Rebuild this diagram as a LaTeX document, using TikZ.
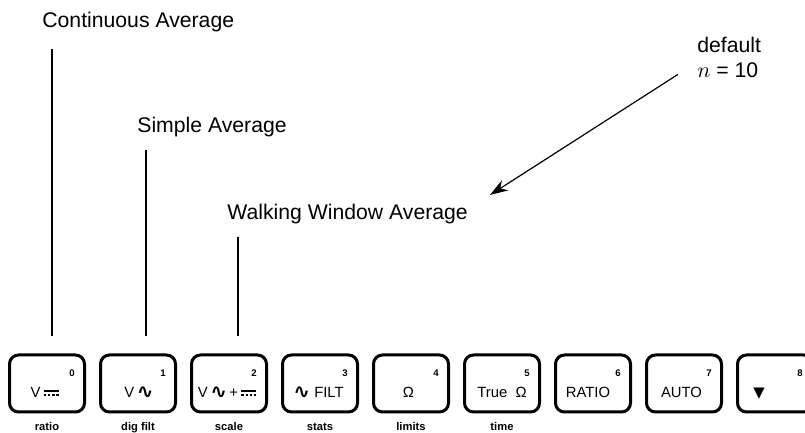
\documentclass[tikz,border=0pt]{standalone}
\usepackage{fontspec}
\setmainfont{Liberation Sans}
\newfontfamily\symfont{DejaVu Sans}
\usetikzlibrary{arrows.meta}

% small key symbols
\newcommand{\dcsym}{\tikz[baseline=0pt]{\draw[line width=0.75pt] (0pt,3.4pt) -- (7.5pt,3.4pt); \draw[line width=0.75pt,dash pattern=on 1.3pt off 0.8pt] (0pt,1.5pt) -- (7.5pt,1.5pt);}}
\newcommand{\acsym}{\raisebox{-0.2pt}{\scalebox{1.35}{\symfont\bfseries ∿}}}

\begin{document}
\begin{tikzpicture}[x=0.5pt,y=-0.5pt]
   \useasboundingbox (0,0) rectangle (805,433);
   \tikzstyle{title}=[anchor=base west, inner sep=0pt, font=\fontsize{10.6}{12.5}\selectfont]
   \tikzstyle{key}=[draw, line width=1.5pt, rounded corners=4.5pt, minimum width=37.5pt, minimum height=28.5pt, inner sep=0pt]
   \tikzstyle{keytext}=[anchor=base, inner sep=0pt, font=\fontsize{7.4}{8}\selectfont]
   \tikzstyle{num}=[inner sep=0pt, font=\fontsize{4.8}{5}\selectfont\bfseries]
   \tikzstyle{fn}=[anchor=base, inner sep=0pt, font=\fontsize{5.6}{6}\selectfont\bfseries]
   \tikzstyle{bar}=[line width=0.8pt, shorten >=8.5pt]
   \tikzstyle{pointer}=[line width=0.6pt, -{Stealth[length=9pt,width=6pt]}]
   \node[title] (cont) at (42,28) {Continuous Average};
   \node[title] (simple) at (137,133) {Simple Average};
   \node[title] (walk) at (227,220) {Walking Window Average};
   \node[title, anchor=north west, align=left] (dflt) at (697,37) {default\\$n$ = 10};
   \foreach \i/\off/\word/\fn in {0/-2/{V\,\dcsym}/ratio, 1/1/{V\,\acsym}/{dig filt},
       2/-1.5/{V\,\acsym\,+\,\dcsym}/scale, 3/-1.5/{\acsym\ FILT}/stats, 4/-2.5/{Ω}/limits,
       5/0/{True\ \ Ω}/time, 6/-5/{RATIO}/{}, 7/-2.5/{AUTO}/{}, 8/-16/{\symfont ▼}/{}} {
       \node[key] (k\i) at (47+91*\i,383.5) {};
       \node[keytext] (t\i) at (47+91*\i+\off,398) {\word};
       \node[num] (n\i) at (72+91*\i,373) {\i};
       \node[fn] (f\i) at (47+91*\i,430) {\fn};
   }
   \coordinate (c0) at (52,49);
   \coordinate (c1) at (146,150);
   \coordinate (c2) at (238,237);
   \draw[bar] (c0) -- (c0 |- k0.north);
   \draw[bar] (c1) -- (c1 |- k1.north);
   \draw[bar] (c2) -- (c2 |- k2.north);
   \coordinate (tip) at (490,195);
   \draw[pointer] ([shift={(-19,-4)}]dflt.south west) -- (tip);
\end{tikzpicture}
\end{document}
